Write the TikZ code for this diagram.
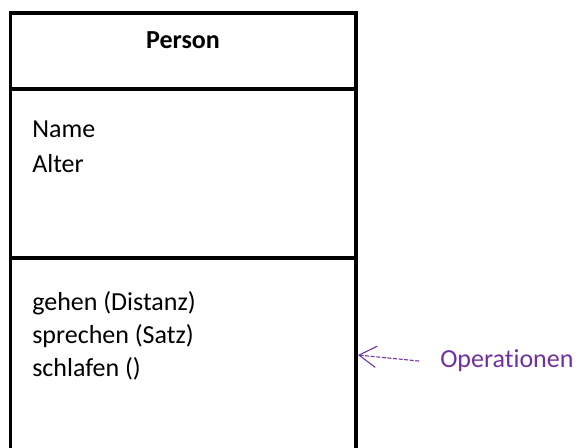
\documentclass[tikz,border=0pt]{standalone}
\usepackage{fontspec}
\setmainfont[Ligatures={NoCommon}]{Carlito}
\usetikzlibrary{arrows.meta, positioning}

\definecolor{notepurple}{HTML}{7030A0}

\begin{document}
\begin{tikzpicture}[
    x=0.75pt, y=-0.75pt,
    classline/.style={draw=black, line width=2.6pt},
    member/.style={
        anchor=base west, inner sep=0pt,
        font=\fontsize{19.5}{26}\selectfont
    },
    title/.style={member, anchor=base, font=\fontsize{19.5}{26}\selectfont\bfseries},
    note/.style={member, text=notepurple},
    note arrow/.style={
        draw=notepurple, line width=0.8pt, dash pattern=on 3pt off 1.2pt,
        {Straight Barb[length=13pt, width=16pt, line width=0.8pt]}-
    }
]
    \path[use as bounding box, clip] (0,0) rectangle (579,448);
    % Class box
    \coordinate (tl) at (10.5,13);
    \coordinate (tr) at (356,13);
    \draw [classline] (10.5,470) -- (tl) -- (tr) -- (356,470);
    \draw [classline] (10.5,89) -- (356,89);
    \draw [classline] (10.5,258) -- (356,258);
    % Texts
    \node (name) [title] at (183,49) {Person};
    \node (attr1) [member] at (32,138) {Name};
    \node (attr2) [member] at (32,173) {Alter};
    \node (op1) [member] at (32,311) {gehen (Distanz)};
    \node (op2) [member] at (32,344) {sprechen (Satz)};
    \node (op3) [member] at (32,377) {schlafen ()};
    % Note
    \coordinate (optip) at (358,355);
    \node (ops) [note] at (440,368) {Operationen};
    \draw [note arrow] (optip) -- ([xshift=-15pt]ops.west);
\end{tikzpicture}
\end{document}
